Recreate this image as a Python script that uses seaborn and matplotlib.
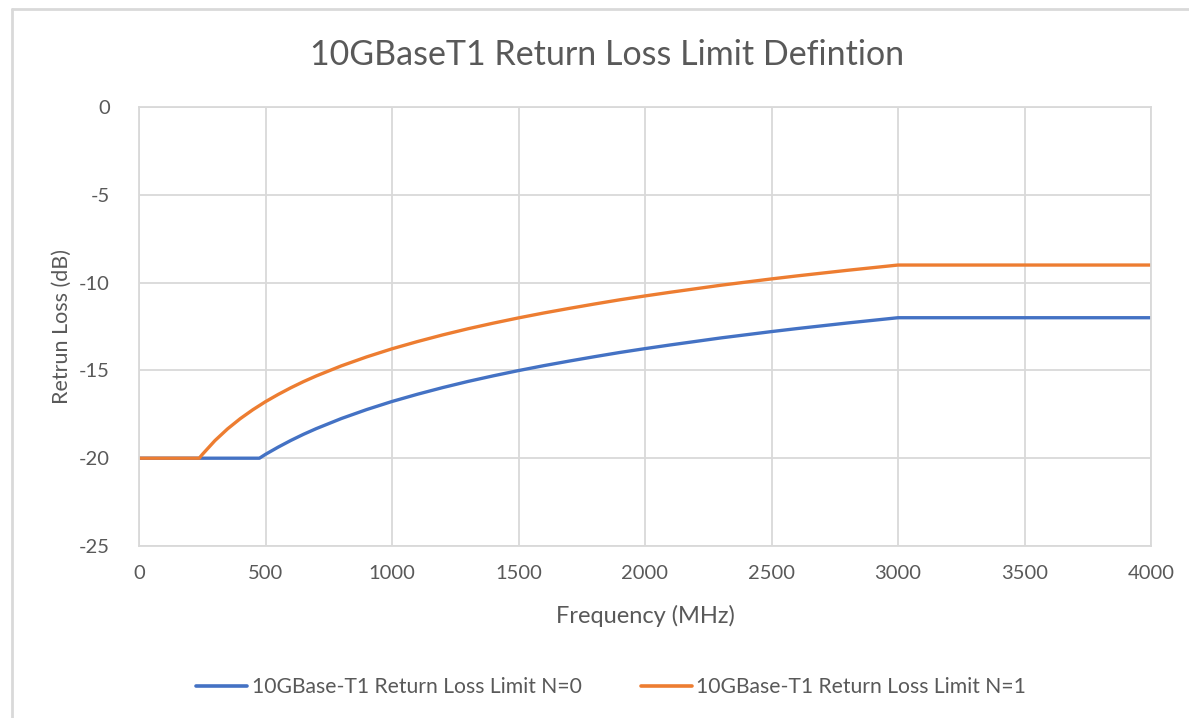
import matplotlib
matplotlib.use("Agg")
import matplotlib.pyplot as plt
from matplotlib.lines import Line2D
import seaborn as sns
import pandas as pd

# Return loss limit, N=0 (MHz, dB)
freq_n0 = [0, 100, 200, 300, 400, 476, 500, 550, 600, 650, 700, 800, 900, 1000,
           1100, 1200, 1300, 1400, 1500, 1600, 1700, 1800, 1900, 2000, 2100,
           2200, 2300, 2400, 2500, 2600, 2700, 2800, 2900, 3000, 3500, 4000]
rl_n0 = [-20, -20, -20, -20, -20, -20, -19.78, -19.37, -18.99, -18.64, -18.32,
         -17.74, -17.23, -16.77, -16.36, -15.98, -15.63, -15.31, -15.01, -14.73,
         -14.47, -14.22, -13.98, -13.76, -13.55, -13.35, -13.15, -12.97, -12.79,
         -12.62, -12.46, -12.30, -12.15, -12.0, -12.0, -12.0]

# Return loss limit, N=1 (MHz, dB)
freq_n1 = [0, 100, 200, 238, 250, 300, 350, 400, 450, 500, 550, 600, 650, 700,
           800, 900, 1000, 1100, 1200, 1300, 1400, 1500, 1600, 1700, 1800, 1900,
           2000, 2100, 2200, 2300, 2400, 2500, 2600, 2700, 2800, 2900, 3000,
           3500, 4000]
rl_n1 = [-20, -20, -20, -20, -19.79, -19.0, -18.33, -17.75, -17.24, -16.78,
         -16.37, -15.99, -15.64, -15.32, -14.74, -14.23, -13.77, -13.36, -12.98,
         -12.63, -12.31, -12.01, -11.73, -11.47, -11.22, -10.98, -10.76, -10.55,
         -10.35, -10.15, -9.97, -9.79, -9.62, -9.46, -9.30, -9.15, -9.0, -9.0,
         -9.0]

series_labels = ["10GBase-T1 Return Loss Limit N=0", "10GBase-T1 Return Loss Limit N=1"]
x_ticks = [0, 500, 1000, 1500, 2000, 2500, 3000, 3500, 4000]
y_ticks = [0, -5, -10, -15, -20, -25]

df = pd.concat([
    pd.DataFrame({"freq": freq_n0, "rl": rl_n0, "series": series_labels[0]}),
    pd.DataFrame({"freq": freq_n1, "rl": rl_n1, "series": series_labels[1]}),
])

sns.set_theme(style="white")
plt.rcParams["font.family"] = ["Lato", "DejaVu Sans"]

text_color = "#595959"
grid_color = "#d9d9d9"

fig = plt.figure(figsize=(11.89, 7.18), dpi=100)
ax = fig.add_axes([139 / 1189, 1 - 546 / 718, (1151 - 139) / 1189, (546 - 107) / 718])

sns.lineplot(data=df, x="freq", y="rl", hue="series", sort=False,
             palette=["#4472C4", "#ED7D31"], linewidth=2.4, ax=ax, legend=False)

ax.set_xlim(0, 4000)
ax.set_ylim(-25, 0)
ax.set_xticks(x_ticks)
ax.set_yticks(y_ticks)
ax.set_xticklabels([str(t) for t in x_ticks])
ax.set_yticklabels([str(t) for t in y_ticks])
ax.grid(True, color=grid_color, linewidth=1.3)
ax.set_axisbelow(True)
for s in ax.spines.values():
    s.set_color(grid_color)
    s.set_linewidth(1.3)
ax.tick_params(axis="both", length=0, labelsize=14.5, colors=text_color)
ax.tick_params(axis="x", pad=14)
ax.tick_params(axis="y", pad=21)

ax.set_xlabel("Frequency (MHz)", fontsize=17, color=text_color, labelpad=16)
ax.set_ylabel("Retrun Loss (dB)", fontsize=15.5, color=text_color, labelpad=5)

fig.text(607 / 1189, 1 - 55 / 718, "10GBaseT1 Return Loss Limit Defintion",
         ha="center", va="center", fontsize=24.5, color=text_color)

handles = [Line2D([], [], color="#4472C4", linewidth=2.6),
           Line2D([], [], color="#ED7D31", linewidth=2.6)]
fig.legend(handles, series_labels, loc="center", bbox_to_anchor=(611 / 1189, 1 - 687 / 718),
           ncol=2, frameon=False, fontsize=15.2, labelcolor=text_color,
           handlelength=2.45, handletextpad=0.2, columnspacing=2.8)

# chart area border
fig.add_artist(Line2D([11.5 / 1189, 11.5 / 1189], [0, 1 - 9 / 718],
                      transform=fig.transFigure, color="#d9d9d9", linewidth=2))
fig.add_artist(Line2D([11.5 / 1189, 1], [1 - 9 / 718, 1 - 9 / 718],
                      transform=fig.transFigure, color="#d9d9d9", linewidth=2))

fig.savefig("out.png", dpi=100, facecolor="white")
